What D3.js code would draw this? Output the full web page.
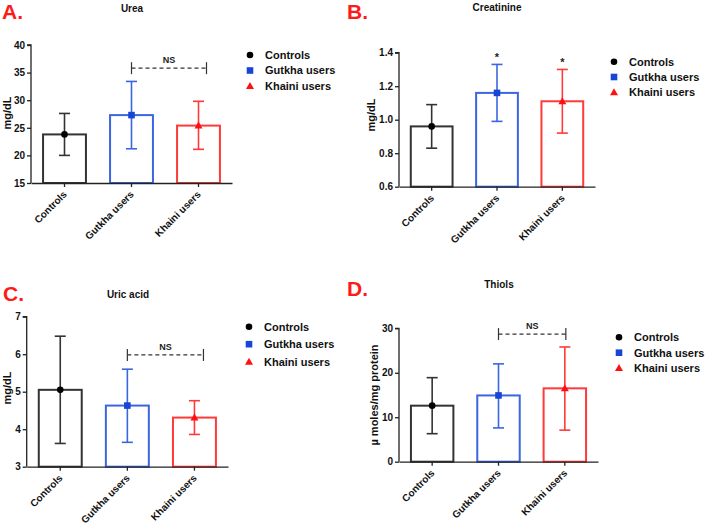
<!DOCTYPE html>
<html><head><meta charset="utf-8">
<script src="https://cdn.jsdelivr.net/npm/d3@7"></script>
<style>body{margin:0;background:#fff}svg{display:block;font-family:Arial,"Liberation Sans",sans-serif}</style>
</head><body>
<svg id="c" width="705" height="531"></svg>
<script>
const groups = ["Controls", "Gutkha users", "Khaini users"];
const ureaMean = [23.8, 27.3, 25.4], ureaLow = [20.0, 21.2, 21.1], ureaHigh = [27.6, 33.4, 29.8];
const creatMean = [0.96, 1.16, 1.11], creatLow = [0.83, 0.99, 0.92], creatHigh = [1.09, 1.33, 1.30];
const uricMean = [5.05, 4.63, 4.31], uricLow = [3.62, 3.65, 3.86], uricHigh = [6.48, 5.60, 4.76];
const thiolMean = [12.6, 14.9, 16.5], thiolLow = [6.3, 7.6, 7.1], thiolHigh = [18.9, 22.0, 25.8];
const ureaTicks = [15, 20, 25, 30, 35, 40];
const creatTicks = [0.6, 0.8, 1.0, 1.2, 1.4];
const uricTicks = [3, 4, 5, 6, 7];
const thiolTicks = [0, 10, 20, 30];

const barColors = ["#333333", "#3a66e0", "#ff3a3a"];
const markColors = ["#000000", "#1746d6", "#ff1010"];
const svg = d3.select("#c");

function panel(o) {
  const g = svg.append("g");
  g.append("text").attr("x", o.letter[0]).attr("y", o.letter[1]).attr("fill", "#ff1a1a")
    .attr("font-size", 21).attr("font-weight", "bold").text(o.letterText);
  g.append("text").attr("x", o.title[0]).attr("y", o.title[1]).attr("text-anchor", "middle")
    .attr("font-size", 10).attr("font-weight", "bold").attr("fill", "#111").text(o.titleText);

  const x = d3.scaleBand().domain(groups).range([o.x0, o.x1]).paddingInner(0.33).paddingOuter(0.165);
  const y = d3.scaleLinear().domain(o.domain).range([o.yBot, o.yTop]);

  groups.forEach((k, i) => {
    g.append("rect").attr("x", x(k) + 1).attr("width", x.bandwidth() - 2)
      .attr("y", y(o.mean[i])).attr("height", o.yBot - y(o.mean[i]))
      .attr("fill", "none").attr("stroke", barColors[i]).attr("stroke-width", 2);
    const cx = x(k) + x.bandwidth() / 2;
    const eg = g.append("g").attr("stroke", barColors[i]).attr("stroke-width", 1.6);
    eg.append("line").attr("x1", cx).attr("x2", cx).attr("y1", y(o.low[i])).attr("y2", y(o.high[i]));
    eg.append("line").attr("x1", cx - 5.5).attr("x2", cx + 5.5).attr("y1", y(o.low[i])).attr("y2", y(o.low[i]));
    eg.append("line").attr("x1", cx - 5.5).attr("x2", cx + 5.5).attr("y1", y(o.high[i])).attr("y2", y(o.high[i]));
    marker(g, i, cx, y(o.mean[i]));
    if (o.stars && o.stars[i]) {
      g.append("text").attr("x", cx).attr("y", y(o.high[i]) - 3).attr("text-anchor", "middle")
        .attr("font-size", 11).attr("font-weight", "bold").attr("fill", "#222").text("*");
    }
  });

  const ya = d3.axisLeft(y).tickValues(o.ticks).tickSize(4).tickPadding(2).tickFormat(o.fmt);
  const yg = g.append("g").attr("transform", `translate(${o.x0},0)`).call(ya);
  yg.selectAll("text").attr("font-size", 10).attr("font-weight", "bold").attr("fill", "#111");
  yg.selectAll("line,path").attr("stroke", "#222").attr("stroke-width", 1.3);
  yg.select(".domain").attr("d", `M-4,${o.yTop}H0V${o.yBot}`);
  const xa = d3.axisBottom(x).tickSize(4).tickSizeOuter(0).tickPadding(3);
  const xg = g.append("g").attr("transform", `translate(0,${o.yBot})`).call(xa);
  xg.selectAll("line,path").attr("stroke", "#222").attr("stroke-width", 1.3);
  xg.selectAll("text").attr("font-size", 10).attr("font-weight", "bold").attr("fill", "#111")
    .attr("text-anchor", "end").attr("x", 0).attr("y", 0).attr("dy", 0)
    .attr("transform", "translate(3,12) rotate(-45)");

  g.append("text").attr("transform", `translate(${o.ylab[0]},${o.ylab[1]}) rotate(-90)`)
    .attr("text-anchor", "middle").attr("font-size", 11).attr("font-weight", "bold").attr("fill", "#111").text(o.ylabText);

  if (o.ns) {
    const xa1 = x(groups[1]) + x.bandwidth() / 2 + o.ns.dx0;
    const xa2 = x(groups[2]) + x.bandwidth() / 2 + o.ns.dx1;
    const yy = y(o.ns.level);
    const bg = g.append("g").attr("stroke", "#333").attr("stroke-width", 1.2);
    bg.append("line").attr("x1", xa1).attr("x2", xa2).attr("y1", yy).attr("y2", yy).attr("stroke-dasharray", "4,3");
    bg.append("line").attr("x1", xa1).attr("x2", xa1).attr("y1", yy - 6).attr("y2", yy + 6);
    bg.append("line").attr("x1", xa2).attr("x2", xa2).attr("y1", yy - 6).attr("y2", yy + 6);
    g.append("text").attr("x", (xa1 + xa2) / 2).attr("y", yy - 5).attr("text-anchor", "middle")
      .attr("font-size", 9).attr("font-weight", "bold").attr("fill", "#222").text("NS");
  }

  groups.forEach((k, i) => {
    const ly = o.leg[1] + i * o.legStep;
    marker(g, i, o.leg[0], ly);
    g.append("text").attr("x", o.leg[0] + 15).attr("y", ly).attr("dy", "0.36em")
      .attr("font-size", 11).attr("font-weight", "bold").attr("fill", "#111").text(k);
  });
}

function marker(g, i, cx, cy) {
  if (i === 0) g.append("circle").attr("cx", cx).attr("cy", cy).attr("r", 3.3).attr("fill", markColors[0]);
  else if (i === 1) g.append("rect").attr("x", cx - 3.3).attr("y", cy - 3.3).attr("width", 6.6).attr("height", 6.6).attr("fill", markColors[1]);
  else g.append("path").attr("d", `M${cx},${cy - 4}L${cx + 4},${cy + 3}L${cx - 4},${cy + 3}Z`).attr("fill", markColors[2]);
}

panel({letterText: "A.", letter: [2, 19], titleText: "Urea", title: [132, 12],
  x0: 31, x1: 232, yTop: 45, yBot: 183, domain: [15, 40], ticks: ureaTicks, fmt: d3.format("d"),
  mean: ureaMean, low: ureaLow, high: ureaHigh, ylabText: "mg/dL", ylab: [11, 113],
  ns: {level: 35.8, dx0: 0, dx1: 8}, leg: [250, 55], legStep: 15.5});
panel({letterText: "B.", letter: [347, 19], titleText: "Creatinine", title: [497, 11],
  x0: 399, x1: 595, yTop: 52.7, yBot: 186.7, domain: [0.6, 1.4], ticks: creatTicks, fmt: d3.format(".1f"),
  mean: creatMean, low: creatLow, high: creatHigh, ylabText: "mg/dL", ylab: [375, 115],
  stars: [false, true, true], leg: [614, 61.7], legStep: 15.3});
panel({letterText: "C.", letter: [3, 301], titleText: "Uric acid", title: [128, 298],
  x0: 26.7, x1: 228, yTop: 316.7, yBot: 466.7, domain: [3, 7], ticks: uricTicks, fmt: d3.format("d"),
  mean: uricMean, low: uricLow, high: uricHigh, ylabText: "mg/dL", ylab: [11, 388],
  ns: {level: 5.98, dx0: 0, dx1: 9}, leg: [249, 326.7], legStep: 17.5});
panel({letterText: "D.", letter: [347, 296], titleText: "Thiols", title: [499, 288],
  x0: 399, x1: 598, yTop: 328.3, yBot: 461.7, domain: [0, 30], ticks: thiolTicks, fmt: d3.format("d"),
  mean: thiolMean, low: thiolLow, high: thiolHigh, ylabText: "µ moles/mg protein", ylab: [378, 395],
  ns: {level: 28.7, dx0: 0, dx1: 1}, leg: [619, 337.3], legStep: 15.4});
</script>
</body></html>
